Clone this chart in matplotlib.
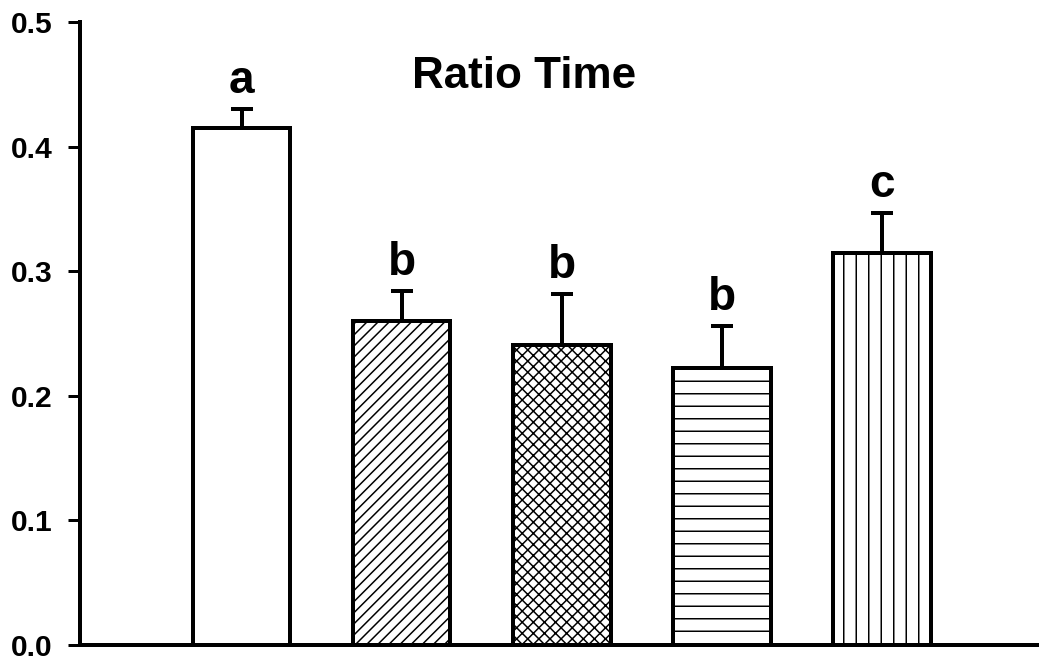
import matplotlib
matplotlib.use("Agg")
import matplotlib.pyplot as plt

# ---- data ----
groups = ["G1", "G2", "G3", "G4", "G5"]
means = [0.415, 0.260, 0.241, 0.222, 0.315]
sems = [0.015, 0.024, 0.041, 0.034, 0.032]
letters = ["a", "b", "b", "b", "c"]
hatches = ["", "/" * 9, "x" * 9, "----", "||||"]
title = "Ratio Time"
yticks = [0.0, 0.1, 0.2, 0.3, 0.4, 0.5]
ytick_labels = ["0.0", "0.1", "0.2", "0.3", "0.4", "0.5"]

DPI = 300
def pt(px):
    return px * 72.0 / DPI

plt.rcParams["font.family"] = ["Liberation Sans", "DejaVu Sans"]
plt.rcParams["font.weight"] = "bold"
plt.rcParams["hatch.linewidth"] = pt(1.5)
plt.rcParams["hatch.color"] = "black"

fig = plt.figure(figsize=(1039 / DPI, 660 / DPI), dpi=DPI)
ax = fig.add_axes([80 / 1039, 15 / 660, (1037 - 80) / 1039, (645 - 22) / 660])

x = list(range(len(groups)))
ax.bar(x, means, width=0.61, color="white", edgecolor="black",
       linewidth=pt(4), hatch=hatches, zorder=2)
ax.errorbar(x, means, yerr=[[0] * len(sems), sems], fmt="none",
            ecolor="black", elinewidth=pt(4), capsize=pt(11.5),
            capthick=pt(4), zorder=3)

for xi, m, s, lab in zip(x, means, sems, letters):
    ax.annotate(lab, (xi, m + s), xytext=(0, pt(16)), textcoords="offset points",
                ha="center", va="baseline", fontsize=pt(46), fontweight="bold")

ax.text(1.766, 0.456, title, ha="center", va="center",
        fontsize=pt(44), fontweight="bold")

ax.set_xlim(-1.01, 4.97)
ax.set_ylim(0, 0.5)
ax.set_xticks([])
ax.set_yticks(yticks)
ax.set_yticklabels(ytick_labels)
ax.tick_params(axis="y", direction="out", length=pt(12), width=pt(3),
               pad=pt(15), labelsize=pt(30))
for lbl in ax.get_yticklabels():
    lbl.set_fontweight("bold")

for side in ["top", "right"]:
    ax.spines[side].set_visible(False)
for side in ["left", "bottom"]:
    ax.spines[side].set_linewidth(pt(4))

fig.savefig("out.png", dpi=DPI)
